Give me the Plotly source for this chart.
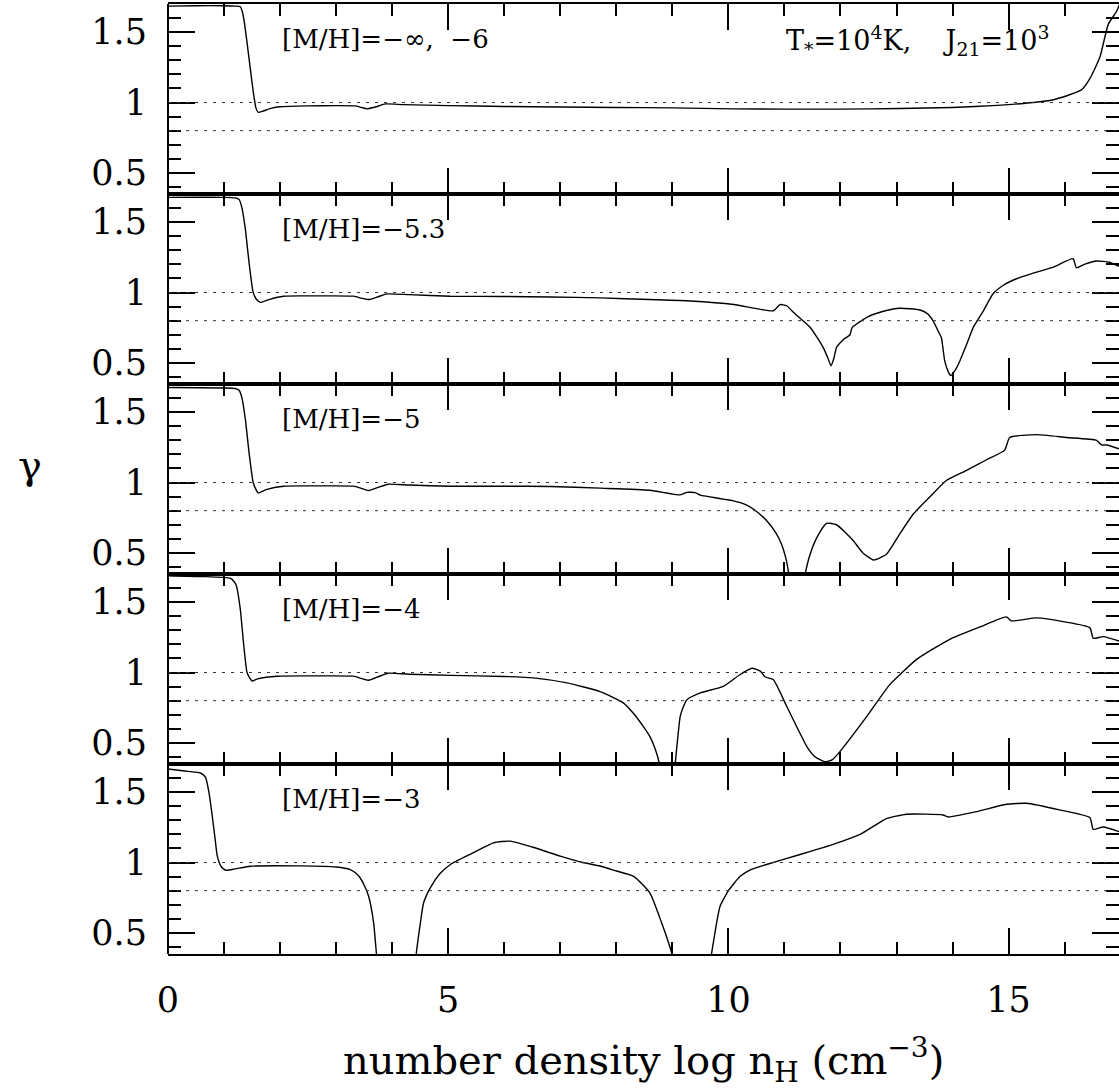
import plotly.graph_objects as go
from plotly.subplots import make_subplots

# Adiabatic index gamma versus hydrogen number density, one panel per metallicity
panel_labels = ["[M/H]=\u2212\u221e,  \u22126", "[M/H]=\u22125.3", "[M/H]=\u22125",
                "[M/H]=\u22124", "[M/H]=\u22123"]
header_label = ("T<sub>*</sub>=10<sup>4</sup>K,\u00a0\u00a0\u00a0\u00a0"
                "J<sub>21</sub>=10<sup>3</sup>")

# log n_H values and gamma values (None marks where the curve leaves the frame)
x_p1 = [0.0, 0.5, 1.0, 1.2, 1.29, 1.33, 1.37, 1.45, 1.52, 1.57, 1.61, 1.7, 1.85, 2.0, 2.5,
        3.0, 3.34, 3.45, 3.55, 3.7, 3.88, 4.2, 5.0, 6.0, 7.0, 8.0, 9.0, 10.1, 11.0, 12.0,
        13.06, 14.0, 14.8, 15.44, 15.8, 16.05, 16.3, 16.45, 16.63, 16.78, 16.93, 17.0]
y_p1 = [1.685, 1.688, 1.688, 1.685, 1.68, 1.64, 1.55, 1.3, 1.08, 0.96, 0.93, 0.94, 0.96,
        0.97, 0.976, 0.978, 0.976, 0.965, 0.955, 0.968, 0.99, 0.985, 0.978, 0.972, 0.968,
        0.965, 0.962, 0.955, 0.953, 0.953, 0.957, 0.965, 0.98, 1.0, 1.02, 1.05, 1.09, 1.17,
        1.324, 1.557, 1.65, 1.72]

x_p2 = [0.0, 1.0, 1.2, 1.27, 1.32, 1.38, 1.45, 1.52, 1.58, 1.65, 1.8, 2.06, 2.6, 3.31,
        3.45, 3.58, 3.75, 3.91, 4.3, 5.04, 6.0, 6.82, 7.71, 8.6, 9.32, 10.1, 10.8, 10.92,
        11.04, 11.16, 11.3, 11.46, 11.6, 11.69, 11.78, 11.83, 11.88, 11.93, 12.05, 12.17,
        12.19, 12.21, 12.47, 12.75, 13.06, 13.42, 13.55, 13.65, 13.75, 13.8, 13.83, 13.86,
        13.92, 13.97, 14.05, 14.13, 14.25, 14.37, 14.55, 14.72, 14.9, 15.14, 15.44, 15.8,
        16.15, 16.21, 16.35, 16.57, 16.8, 16.97]
y_p2 = [1.676, 1.676, 1.672, 1.66, 1.6, 1.45, 1.2, 1.0, 0.95, 0.93, 0.95, 0.974, 0.976,
        0.974, 0.96, 0.95, 0.97, 0.99, 0.985, 0.974, 0.972, 0.968, 0.962, 0.95, 0.94, 0.915,
        0.87, 0.914, 0.906, 0.86, 0.81, 0.752, 0.67, 0.61, 0.53, 0.48, 0.53, 0.61, 0.665,
        0.70, 0.73, 0.752, 0.824, 0.865, 0.888, 0.876, 0.85, 0.80, 0.72, 0.68, 0.6, 0.514,
        0.44, 0.41, 0.45, 0.514, 0.63, 0.752, 0.87, 0.99, 1.05, 1.098, 1.138, 1.18, 1.24,
        1.176, 1.2, 1.224, 1.215, 1.186]

x_p3 = [0.0, 1.0, 1.2, 1.27, 1.32, 1.38, 1.45, 1.52, 1.57, 1.61, 1.75, 2.06, 2.6, 3.31,
        3.45, 3.58, 3.75, 3.93, 4.3, 5.04, 6.0, 6.82, 7.71, 8.6, 9.14, 9.26, 9.41, 9.5,
        10.09, 10.3, 10.45, 10.68, 10.85, 10.95, 11.02, 11.07, 11.1, None, 11.33, 11.37,
        11.45, 11.58, 11.75, 11.93, 12.1, 12.23, 12.4, 12.59, 12.82, 13.05, 13.3, 13.6,
        13.89, 14.25, 14.6, 14.93, 15.02, 15.5, 16.03, 16.57, 16.66, 16.75, 16.97]
y_p3 = [1.675, 1.672, 1.668, 1.655, 1.6, 1.45, 1.2, 1.0, 0.95, 0.926, 0.95, 0.974, 0.976,
        0.974, 0.958, 0.943, 0.965, 0.988, 0.982, 0.974, 0.974, 0.972, 0.96, 0.945, 0.912,
        0.93, 0.928, 0.91, 0.87, 0.845, 0.81, 0.73, 0.64, 0.56, 0.47, 0.37, 0.25, None,
        0.25, 0.35, 0.48, 0.61, 0.71, 0.70, 0.64, 0.586, 0.5, 0.45, 0.49, 0.63, 0.776, 0.9,
        1.014, 1.086, 1.16, 1.23, 1.32, 1.34, 1.32, 1.30, 1.267, 1.267, 1.24]

x_p4 = [0.0, 0.6, 1.11, 1.17, 1.22, 1.29, 1.35, 1.41, 1.46, 1.5, 1.6, 1.95, 2.6, 3.31,
        3.45, 3.58, 3.75, 3.93, 4.3, 5.04, 6.0, 6.52, 7.12, 7.71, 8.13, 8.3, 8.48, 8.6, 8.7,
        8.77, 8.8, None, 9.03, 9.05, 9.1, 9.14, 9.2, 9.26, 9.5, 9.91, 10.21, 10.42, 10.57,
        10.65, 10.8, 11.04, 11.4, 11.55, 11.72, 11.85, 11.99, 12.47, 12.88, 13.36, 13.95,
        14.49, 14.96, 15.05, 15.5, 16.0, 16.45, 16.51, 16.69, 16.97]
y_p4 = [1.688, 1.682, 1.67, 1.65, 1.617, 1.45, 1.2, 1.0, 0.96, 0.94, 0.955, 0.974, 0.976,
        0.974, 0.958, 0.945, 0.97, 0.995, 0.988, 0.98, 0.972, 0.962, 0.926, 0.864, 0.783,
        0.712, 0.617, 0.545, 0.45, 0.35, 0.25, None, 0.25, 0.35, 0.55, 0.688, 0.76, 0.807,
        0.855, 0.902, 0.986, 1.03, 1.01, 0.97, 0.95, 0.76, 0.474, 0.40, 0.366, 0.38, 0.438,
        0.688, 0.914, 1.093, 1.236, 1.324, 1.395, 1.367, 1.388, 1.36, 1.319, 1.243, 1.255,
        1.224]

x_p5 = [0.0, 0.3, 0.58, 0.67, 0.73, 0.79, 0.84, 0.88, 0.95, 1.03, 1.2, 1.47, 2.36, 3.0,
        3.25, 3.35, 3.43, 3.5, 3.58, 3.67, 3.72, 3.75, None, 4.41, 4.43, 4.5, 4.56, 4.68,
        4.85, 5.04, 5.4, 5.81, 6.11, 6.5, 7.0, 7.4, 7.71, 8.0, 8.31, 8.6, 8.81, 8.99, 9.05,
        None, 9.65, 9.7, 9.78, 9.85, 10.0, 10.21, 10.4, 10.68, 11.28, 11.87, 12.35, 12.6,
        12.82, 13.18, 13.83, 13.92, 14.43, 14.96, 15.32, 15.91, 16.45, 16.51, 16.69, 16.97]
y_p5 = [1.664, 1.65, 1.636, 1.605, 1.5, 1.33, 1.17, 1.045, 0.97, 0.945, 0.955, 0.974,
        0.976, 0.968, 0.95, 0.925, 0.89, 0.84, 0.76, 0.57, 0.35, 0.25, None, 0.25, 0.35,
        0.56, 0.712, 0.82, 0.92, 0.986, 1.06, 1.14, 1.152, 1.11, 1.045, 1.0, 0.975, 0.94,
        0.902, 0.783, 0.57, 0.355, 0.25, None, 0.25, 0.355, 0.55, 0.688, 0.8, 0.902, 0.95,
        0.986, 1.057, 1.129, 1.2, 1.26, 1.312, 1.343, 1.338, 1.324, 1.362, 1.414, 1.421,
        1.374, 1.319, 1.236, 1.252, 1.219]

panels_x = [x_p1, x_p2, x_p3, x_p4, x_p5]
panels_y = [y_p1, y_p2, y_p3, y_p4, y_p5]

# dotted reference levels of gamma
ref_levels = [1.0, 0.8]

x_range = [0, 16.97]
y_range = [0.35, 1.7]

FONT = "DejaVu Serif"
n = len(panel_labels)

fig = make_subplots(rows=n, cols=1, vertical_spacing=0)

for i in range(n):
    row = i + 1
    fig.add_trace(go.Scatter(x=panels_x[i], y=panels_y[i], mode="lines",
                             line=dict(color="black", width=1.4, shape="spline",
                                       smoothing=0.5),
                             connectgaps=False, showlegend=False, hoverinfo="skip"),
                  row=row, col=1)
    for lvl in ref_levels:
        fig.add_hline(y=lvl, row=row, col=1,
                      line=dict(color="#333333", width=1, dash="3px,6px"))

    fig.update_xaxes(range=x_range, showline=True, linewidth=2, linecolor="black",
                     mirror="allticks", ticks="inside", ticklen=26, tickwidth=1.5,
                     tickcolor="black", tick0=0, dtick=5,
                     minor=dict(ticks="inside", ticklen=12, tickwidth=1.5,
                                tickcolor="black", tick0=0, dtick=1),
                     showgrid=False, zeroline=False, showticklabels=(row == n),
                     tickfont=dict(family=FONT, size=35, color="black"),
                     ticklabelstandoff=14,
                     row=row, col=1)
    # the left frame edge is drawn as a shape so the right edge stays open
    fig.update_yaxes(range=y_range, showline=False,
                     mirror="allticks", ticks="inside", ticklen=27, tickwidth=1.5,
                     tickcolor="black", tick0=0, dtick=0.5,
                     minor=dict(ticks="inside", ticklen=13, tickwidth=1.5,
                                tickcolor="black", tick0=0, dtick=0.1),
                     showgrid=False, zeroline=False,
                     tickfont=dict(family=FONT, size=35, color="black"),
                     ticklabelstandoff=20,
                     row=row, col=1)

    yref = "y" if row == 1 else f"y{row}"
    xref = "x" if row == 1 else f"x{row}"
    fig.add_annotation(x=2.0, y=1.45, xref=xref, yref=yref, text=panel_labels[i],
                       showarrow=False, xanchor="left", yanchor="middle",
                       font=dict(family=FONT, size=26, color="black"))

fig.add_shape(type="line", xref="paper", yref="paper", x0=0, x1=0, y0=0, y1=1,
              line=dict(color="black", width=2))

fig.add_annotation(x=11.0, y=1.44, xref="x", yref="y", text=header_label,
                   showarrow=False, xanchor="left", yanchor="middle",
                   font=dict(family=FONT, size=27, color="black"))

# axis titles
fig.add_annotation(x=0.5, y=-0.112, xref="paper", yref="paper",
                   text="number density log n<sub>H</sub> (cm<sup>\u22123</sup>)",
                   showarrow=False, xanchor="center", yanchor="middle",
                   font=dict(family=FONT, size=40, color="black"))
fig.add_annotation(x=-0.145, y=0.515, xref="paper", yref="paper", text="\u03b3",
                   showarrow=False, xanchor="center", yanchor="middle",
                   font=dict(family=FONT, size=40, color="black"))

fig.update_layout(width=1119, height=1089, autosize=False,
                  margin=dict(l=168, r=0, t=4, b=135),
                  plot_bgcolor="white", paper_bgcolor="white")

fig.write_html("out.html")
